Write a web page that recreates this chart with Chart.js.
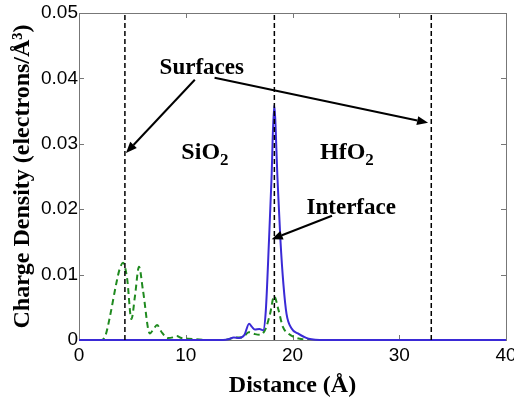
<!DOCTYPE html>
<html><head><meta charset="utf-8">
<script src="https://cdn.jsdelivr.net/npm/chart.js@4/dist/chart.umd.min.js"></script>
<style>html,body{margin:0;padding:0;background:#fff;}</style>
</head><body>
<canvas id="c" width="514" height="398" style="width:514px;height:398px;display:block"></canvas>
<script>
// ---- data ----
const xTickValues = [0, 10, 20, 30, 40];
const xTickLabels = ['0', '10', '20', '30', '40'];
const yTickValues = [0, 0.01, 0.02, 0.03, 0.04, 0.05];
const yTickLabels = ['0', '0.01', '0.02', '0.03', '0.04', '0.05'];

const greenX = [0, 1.5, 2.1, 2.5, 2.9, 3.5, 3.8, 4.12, 4.5, 4.91, 5.25, 5.62, 6.0, 6.63, 7.0, 7.31, 7.7, 8.34, 8.8, 9.13, 9.6, 10.2, 11, 12, 13, 14, 14.6, 15.3, 15.9, 16.5, 17.0, 17.5, 17.9, 18.28, 18.7, 19.1, 19.6, 20.2, 21, 22, 40];
const greenY = [0, 0, 0, 0.0008, 0.0036, 0.0087, 0.0108, 0.0118, 0.0095, 0.0032, 0.0068, 0.0112, 0.0075, 0.001, 0.0017, 0.0023, 0.0013, 0.0003, 0.0004, 0.0006, 0.0003, 0.0002, 0.0001, 0, 0, 0.0001, 0.0004, 0.0004, 0.0012, 0.0009, 0.0008, 0.0018, 0.004, 0.0067, 0.0045, 0.002, 0.001, 0.0004, 0.0001, 0, 0];

const blueX = [0, 13.5, 14.0, 14.5, 15.0, 15.5, 15.93, 16.2, 16.47, 16.9, 17.25, 17.5, 17.8, 18.03, 18.28, 18.6, 18.87, 19.15, 19.44, 19.9, 20.5, 21.5, 23, 40];
const blueY = [0, 0, 0.0001, 0.0004, 0.0003, 0.0008, 0.0025, 0.002, 0.0016, 0.0017, 0.0015, 0.0045, 0.0153, 0.0245, 0.0359, 0.0245, 0.0153, 0.0085, 0.004, 0.0018, 0.001, 0.0002, 0, 0];

const markerX = [4.3, 18.3, 33.0];

const textNotes = [
  {text: 'Surfaces', x: 11.5, y: 0.0416},
  {text: 'Interface', x: 25.5, y: 0.0202}
];
const formulaNotes = [
  {main: 'SiO', sub: '2', x: 11.8, y: 0.0286},
  {main: 'HfO', sub: '2', x: 25.1, y: 0.0286}
];
const arrowFromX = [10.85, 12.7, 23.7];
const arrowFromY = [0.0398, 0.0401, 0.019];
const arrowToX = [4.4, 32.7, 18.05];
const arrowToY = [0.0286, 0.0332, 0.0154];

// ---- build ----
const pts = (xs, ys) => xs.map((v, i) => ({x: v, y: ys[i]}));

const datasets = markerX.map(m => ({
  data: [{x: m, y: 0}, {x: m, y: 0.05}],
  borderColor: '#000', borderWidth: 1.5, borderDash: [5, 3],
  pointRadius: 0, fill: false, order: 0
}));
datasets.push({
  data: pts(blueX, blueY), borderColor: '#3a2ad6', borderWidth: 2,
  pointRadius: 0, fill: false, cubicInterpolationMode: 'monotone', order: 1, clip: 4
});
datasets.push({
  data: pts(greenX, greenY), borderColor: '#1f8a1f', borderWidth: 2, borderDash: [6, 4],
  pointRadius: 0, fill: false, cubicInterpolationMode: 'monotone', order: 2
});

const framePlugin = {
  id: 'frame',
  beforeDatasetsDraw(chart) {
    const {ctx, chartArea: a, scales: {x, y}} = chart;
    ctx.save();
    ctx.strokeStyle = '#777';
    ctx.lineWidth = 1;
    ctx.strokeRect(Math.round(a.left) + 0.5, Math.round(a.top) + 0.5, Math.round(a.right - a.left), Math.round(a.bottom - a.top));
    const L = 5;
    ctx.beginPath();
    xTickValues.forEach(v => {
      const px = Math.round(x.getPixelForValue(v)) + 0.5;
      ctx.moveTo(px, a.bottom); ctx.lineTo(px, a.bottom - L);
      ctx.moveTo(px, a.top); ctx.lineTo(px, a.top + L);
    });
    yTickValues.forEach(v => {
      const py = Math.round(y.getPixelForValue(v)) + 0.5;
      ctx.moveTo(a.left, py); ctx.lineTo(a.left + L, py);
      ctx.moveTo(a.right, py); ctx.lineTo(a.right - L, py);
    });
    ctx.stroke();
    ctx.restore();
  }
};

const notePlugin = {
  id: 'notes',
  afterDatasetsDraw(chart) {
    const {ctx, scales: {x, y}} = chart;
    ctx.save();
    ctx.fillStyle = '#000';
    ctx.strokeStyle = '#000';
    ctx.textBaseline = 'middle';
    ctx.font = 'bold 23px "Liberation Serif", "Times New Roman", serif';
    ctx.textAlign = 'center';
    textNotes.forEach(n => ctx.fillText(n.text, x.getPixelForValue(n.x), y.getPixelForValue(n.y)));
    formulaNotes.forEach(n => {
      const mainFont = 'bold 24px "Liberation Serif", serif';
      const subFont = 'bold 17px "Liberation Serif", serif';
      ctx.font = mainFont; const w1 = ctx.measureText(n.main).width;
      ctx.font = subFont; const w2 = ctx.measureText(n.sub).width;
      const cx = x.getPixelForValue(n.x), cy = y.getPixelForValue(n.y);
      const left = cx - (w1 + w2) / 2;
      ctx.textAlign = 'left';
      ctx.font = mainFont; ctx.fillText(n.main, left, cy);
      ctx.font = subFont; ctx.fillText(n.sub, left + w1, cy + 8);
    });
    ctx.lineWidth = 2;
    arrowFromX.forEach((fx, i) => {
      const x1 = x.getPixelForValue(fx), y1 = y.getPixelForValue(arrowFromY[i]);
      const x2 = x.getPixelForValue(arrowToX[i]), y2 = y.getPixelForValue(arrowToY[i]);
      const ang = Math.atan2(y2 - y1, x2 - x1);
      const hl = 11, hw = 4.5;
      const bx = x2 - hl * Math.cos(ang), by = y2 - hl * Math.sin(ang);
      ctx.beginPath(); ctx.moveTo(x1, y1); ctx.lineTo(bx, by); ctx.stroke();
      ctx.beginPath();
      ctx.moveTo(x2, y2);
      ctx.lineTo(bx + hw * Math.sin(ang), by - hw * Math.cos(ang));
      ctx.lineTo(bx - hw * Math.sin(ang), by + hw * Math.cos(ang));
      ctx.closePath(); ctx.fill();
    });
    ctx.restore();
  }
};

new Chart(document.getElementById('c'), {
  type: 'line',
  data: {datasets},
  options: {
    responsive: false,
    animation: false,
    devicePixelRatio: 1,
    layout: {padding: {left: 0, right: 8, top: 13, bottom: 0}},
    plugins: {legend: {display: false}, tooltip: {enabled: false}},
    scales: {
      x: {
        type: 'linear', min: 0, max: 40,
        afterBuildTicks: s => { s.ticks = xTickValues.map(v => ({value: v})); },
        afterFit: s => { s.height = 58; s.paddingLeft = 0; s.paddingRight = 0; },
        grid: {display: false, drawTicks: false},
        border: {display: false},
        ticks: {
          padding: 4, color: '#000', maxRotation: 0,
          font: {family: '"Liberation Sans", Arial, sans-serif', size: 19},
          callback: (v, i) => xTickLabels[i]
        },
        title: {
          display: true, text: 'Distance (Å)', color: '#000',
          font: {family: '"Liberation Serif", "Times New Roman", serif', size: 24, weight: 'bold', lineHeight: 1},
          padding: {top: 0, bottom: 0}
        }
      },
      y: {
        type: 'linear', min: 0, max: 0.05,
        afterBuildTicks: s => { s.ticks = yTickValues.map(v => ({value: v})); },
        afterFit: s => { s.width = 79; s.paddingTop = 0; s.paddingBottom = 0; },
        grid: {display: false, drawTicks: false},
        border: {display: false},
        ticks: {
          padding: 1, color: '#000',
          font: {family: '"Liberation Sans", Arial, sans-serif', size: 19},
          callback: (v, i) => yTickLabels[i]
        },
        title: {
          display: true, text: 'Charge Density (electrons/Å³)', color: '#000',
          font: {family: '"Liberation Serif", "Times New Roman", serif', size: 24, weight: 'bold', lineHeight: 1},
          padding: {top: 11, bottom: 0}
        }
      }
    }
  },
  plugins: [framePlugin, notePlugin]
});
</script>
</body></html>
